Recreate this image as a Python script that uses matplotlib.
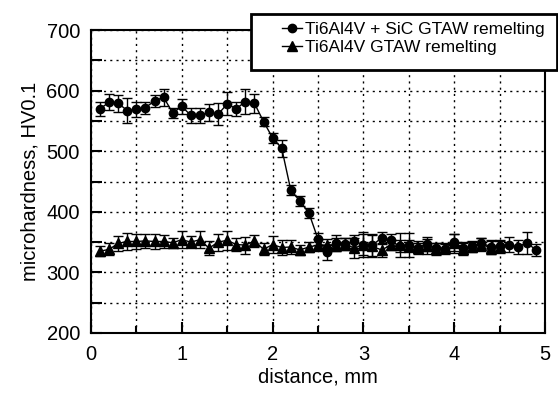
import matplotlib
matplotlib.use("Agg")
import matplotlib.pyplot as plt
from matplotlib.patches import Rectangle
from matplotlib.lines import Line2D
from matplotlib.ticker import MultipleLocator

plt.rcParams["font.family"] = ["Liberation Sans", "DejaVu Sans"]

# Ti6Al4V + SiC GTAW remelting (circles)
dist_sic = [0.1, 0.2, 0.3, 0.4, 0.5, 0.6, 0.7, 0.8, 0.9, 1.0,
            1.1, 1.2, 1.3, 1.4, 1.5, 1.6, 1.7, 1.8, 1.9, 2.0,
            2.1, 2.2, 2.3, 2.4, 2.5, 2.6, 2.7, 2.8, 2.9, 3.0,
            3.1, 3.2, 3.3, 3.4, 3.5, 3.6, 3.7, 3.8, 3.9, 4.0,
            4.1, 4.2, 4.3, 4.4, 4.5, 4.6, 4.7, 4.8, 4.9]
hv_sic = [570, 581, 579, 567, 569, 572, 583, 589, 563, 574,
          559, 559, 564, 561, 578, 570, 582, 579, 549, 522,
          505, 436, 418, 398, 355, 333, 349, 347, 351, 346,
          345, 357, 353, 343, 345, 341, 347, 340, 339, 350,
          340, 343, 349, 342, 343, 346, 342, 349, 337]
err_sic = [12, 13, 14, 21, 13, 10, 10, 14, 9, 12,
           12, 12, 14, 18, 19, 12, 21, 16, 8, 8,
           14, 8, 8, 8, 10, 12, 13, 10, 10, 18,
           18, 10, 10, 10, 20, 10, 12, 8, 8, 14,
           10, 8, 8, 12, 10, 12, 12, 18, 10]

# Ti6Al4V GTAW remelting (triangles)
dist_ti = [0.1, 0.2, 0.3, 0.4, 0.5, 0.6, 0.7, 0.8, 0.9, 1.0,
           1.1, 1.2, 1.3, 1.4, 1.5, 1.6, 1.7, 1.8, 1.9, 2.0,
           2.1, 2.2, 2.3, 2.4, 2.5, 2.6, 2.7, 2.8, 2.9, 3.0,
           3.1, 3.2, 3.3, 3.4, 3.5, 3.6, 3.7, 3.8, 3.9, 4.0,
           4.1, 4.2, 4.3, 4.4, 4.5]
hv_ti = [335, 338, 348, 351, 351, 352, 351, 351, 349, 354,
         350, 354, 340, 350, 353, 346, 345, 352, 338, 346,
         341, 342, 337, 342, 345, 345, 346, 347, 340, 346,
         343, 337, 345, 345, 344, 340, 343, 338, 341, 348,
         338, 342, 346, 341, 342]
err_ti = [8, 10, 12, 14, 12, 12, 12, 10, 8, 14,
          10, 14, 12, 14, 16, 10, 14, 10, 10, 14,
          12, 12, 8, 8, 10, 10, 10, 10, 16, 20,
          18, 12, 8, 20, 10, 8, 12, 10, 8, 16,
          10, 8, 10, 10, 10]

labels = ["Ti6Al4V + SiC GTAW remelting", "Ti6Al4V GTAW remelting"]

W, H = 558, 393
fig = plt.figure(figsize=(W / 100, H / 100), dpi=100)
ax = fig.add_axes([91 / W, 1 - 333 / H, (545 - 91) / W, (333 - 30) / H])

ax.errorbar(dist_sic, hv_sic, yerr=err_sic, color="black", marker="o",
            markersize=6, linewidth=1, elinewidth=1, capsize=3.6,
            capthick=1, zorder=3)
ax.errorbar(dist_ti, hv_ti, yerr=err_ti, color="black", marker="^",
            markersize=7.2, linewidth=1, elinewidth=1, capsize=3.6,
            capthick=1, zorder=3)

ax.set_xlim(0, 5)
ax.set_ylim(200, 700)
ax.xaxis.set_major_locator(MultipleLocator(1))
ax.xaxis.set_minor_locator(MultipleLocator(0.5))
ax.yaxis.set_major_locator(MultipleLocator(100))
ax.yaxis.set_minor_locator(MultipleLocator(50))
ax.grid(which="both", color="black", linestyle=(0, (1.5, 3)), linewidth=1)

ax.tick_params(axis="x", which="major", direction="in", length=8, width=1.5,
               labelsize=14.5, pad=9)
ax.tick_params(axis="x", which="minor", direction="in", length=5, width=1.5)
ax.tick_params(axis="y", which="both", direction="in", length=8, width=1.5,
               labelsize=14.5, pad=8)
for s in ax.spines.values():
    s.set_linewidth(1.5)

ax.set_xlabel("distance, mm", fontsize=14.5, labelpad=2)
ax.set_ylabel("microhardness, HV0.1", fontsize=14.5, labelpad=5)

# legend box hanging over the top right of the plot
box = Rectangle((251 / W, 1 - 70 / H), (557 - 251) / W, (70 - 14) / H,
                transform=fig.transFigure, facecolor="white",
                edgecolor="black", linewidth=2, zorder=4)
fig.patches.append(box)
handles = [Line2D([], [], color="black", marker="o", markersize=6, linewidth=1),
           Line2D([], [], color="black", marker="^", markersize=7.2, linewidth=1)]
fig.legend(handles, labels, loc="upper left",
           bbox_to_anchor=(282 / W, 1 - 22 / H), frameon=False,
           fontsize=12.5, handlelength=1.15, handletextpad=0.2,
           labelspacing=0.15, borderpad=0, borderaxespad=0)

fig.savefig("out.png", dpi=100)
